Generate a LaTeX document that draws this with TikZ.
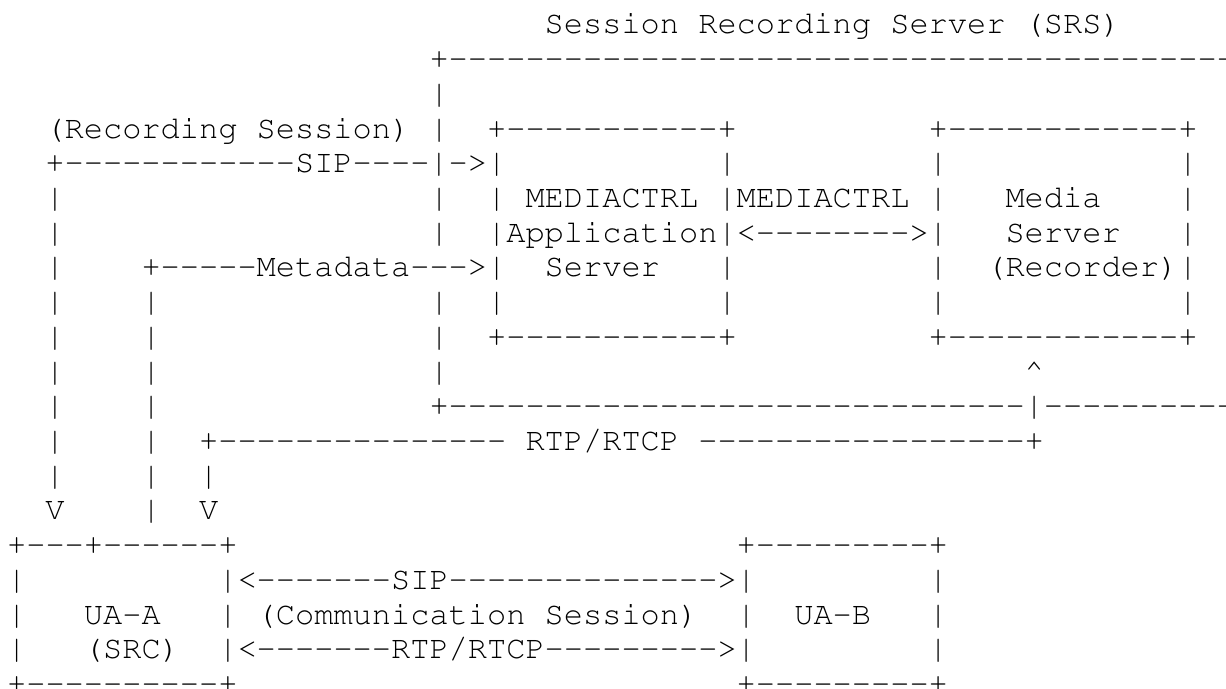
\documentclass[tikz,border=0pt]{standalone}
\usepackage[T1]{fontenc}
\usepackage{courier}
\ExplSyntaxOn
\cs_new:Npn \rdash #1 { \prg_replicate:nn {#1} {-{}} }
\ExplSyntaxOff
\newcommand\gx[1]{7.1+19.2*#1}
\newcommand\gy[1]{34.72*#1-0.84}
\begin{document}
\begin{tikzpicture}[x=0.5pt,y=-0.5pt,
  t/.style={anchor=base west, inner sep=0pt, outer sep=0pt, text=black,
            font=\ttfamily\fontsize{16}{17}\selectfont}]
\useasboundingbox[fill=white] (0,0) rectangle (1226,689);
% line 1
\node[t] (l1) at ({\gx{28}},{\gy{1}}) {Session Recording Server (SRS)};
% line 2
\node[t] (l2) at ({\gx{22}},{\gy{2}}) {+\rdash{42}};
% line 3
\node[t] (l3) at ({\gx{22}},{\gy{3}}) {|};
% line 4
\node[t] (l4a) at ({\gx{2}},{\gy{4}}) {(Recording Session)};
\node[t] (l4b) at ({\gx{22}},{\gy{4}}) {|};
\node[t] (l4c) at ({\gx{25}},{\gy{4}}) {+\rdash{11}+};
\node[t] (l4d) at ({\gx{48}},{\gy{4}}) {+\rdash{12}+};
% line 5
\node[t] (l5a) at ({\gx{2}},{\gy{5}}) {+\rdash{12}SIP\rdash{4}|-{}>|};
\node[t] (l5b) at ({\gx{37}},{\gy{5}}) {|};
\node[t] (l5c) at ({\gx{48}},{\gy{5}}) {|};
\node[t] (l5d) at ({\gx{61}},{\gy{5}}) {|};
% line 6
\node[t] (l6a) at ({\gx{2}},{\gy{6}}) {|};
\node[t] (l6b) at ({\gx{22}},{\gy{6}}) {|};
\node[t] (l6c) at ({\gx{25}},{\gy{6}}) {|};
\node[t] (l6d) at ({\gx{27}},{\gy{6}}) {MEDIACTRL};
\node[t] (l6e) at ({\gx{37}},{\gy{6}}) {|MEDIACTRL};
\node[t] (l6f) at ({\gx{48}},{\gy{6}}) {|};
\node[t] (l6g) at ({\gx{52}},{\gy{6}}) {Media};
\node[t] (l6h) at ({\gx{61}},{\gy{6}}) {|};
% line 7
\node[t] (l7a) at ({\gx{2}},{\gy{7}}) {|};
\node[t] (l7b) at ({\gx{22}},{\gy{7}}) {|};
\node[t] (l7c) at ({\gx{25}},{\gy{7}}) {|Application|<\rdash{8}>|};
\node[t] (l7d) at ({\gx{52}},{\gy{7}}) {Server};
\node[t] (l7e) at ({\gx{61}},{\gy{7}}) {|};
% line 8
\node[t] (l8a) at ({\gx{2}},{\gy{8}}) {|};
\node[t] (l8b) at ({\gx{7}},{\gy{8}}) {+\rdash{5}Metadata\rdash{3}>|};
\node[t] (l8c) at ({\gx{28}},{\gy{8}}) {Server};
\node[t] (l8d) at ({\gx{37}},{\gy{8}}) {|};
\node[t] (l8e) at ({\gx{48}},{\gy{8}}) {|};
\node[t] (l8f) at ({\gx{51}},{\gy{8}}) {(Recorder)|};
% line 9
\node[t] (l9a) at ({\gx{2}},{\gy{9}}) {|};
\node[t] (l9b) at ({\gx{7}},{\gy{9}}) {|};
\node[t] (l9c) at ({\gx{22}},{\gy{9}}) {|};
\node[t] (l9d) at ({\gx{25}},{\gy{9}}) {|};
\node[t] (l9e) at ({\gx{37}},{\gy{9}}) {|};
\node[t] (l9f) at ({\gx{48}},{\gy{9}}) {|};
\node[t] (l9g) at ({\gx{61}},{\gy{9}}) {|};
% line 10
\node[t] (l10a) at ({\gx{2}},{\gy{10}}) {|};
\node[t] (l10b) at ({\gx{7}},{\gy{10}}) {|};
\node[t] (l10c) at ({\gx{22}},{\gy{10}}) {|};
\node[t] (l10d) at ({\gx{25}},{\gy{10}}) {+\rdash{11}+};
\node[t] (l10e) at ({\gx{48}},{\gy{10}}) {+\rdash{12}+};
% line 11
\node[t] (l11a) at ({\gx{2}},{\gy{11}}) {|};
\node[t] (l11b) at ({\gx{7}},{\gy{11}}) {|};
\node[t] (l11c) at ({\gx{22}},{\gy{11}}) {|};
\node[t] (l11d) at ({\gx{53}},{\gy{11}}) {\textasciicircum};
% line 12
\node[t] (l12a) at ({\gx{2}},{\gy{12}}) {|};
\node[t] (l12b) at ({\gx{7}},{\gy{12}}) {|};
\node[t] (l12c) at ({\gx{22}},{\gy{12}}) {+\rdash{30}|\rdash{12}};
% line 13
\node[t] (l13a) at ({\gx{2}},{\gy{13}}) {|};
\node[t] (l13b) at ({\gx{7}},{\gy{13}}) {|};
\node[t] (l13c) at ({\gx{10}},{\gy{13}}) {+\rdash{15} RTP/RTCP \rdash{17}+};
% line 14
\node[t] (l14a) at ({\gx{2}},{\gy{14}}) {|};
\node[t] (l14b) at ({\gx{7}},{\gy{14}}) {|};
\node[t] (l14c) at ({\gx{10}},{\gy{14}}) {|};
% line 15
\node[t] (l15a) at ({\gx{2}},{\gy{15}}) {V};
\node[t] (l15b) at ({\gx{7}},{\gy{15}}) {|};
\node[t] (l15c) at ({\gx{10}},{\gy{15}}) {V};
% line 16
\node[t] (l16a) at ({\gx{0}},{\gy{16}}) {+\rdash{3}+\rdash{6}+};
\node[t] (l16b) at ({\gx{38}},{\gy{16}}) {+\rdash{9}+};
% line 17
\node[t] (l17a) at ({\gx{0}},{\gy{17}}) {|};
\node[t] (l17b) at ({\gx{11}},{\gy{17}}) {|<\rdash{7}SIP\rdash{14}>|};
\node[t] (l17c) at ({\gx{48}},{\gy{17}}) {|};
% line 18
\node[t] (l18a) at ({\gx{0}},{\gy{18}}) {|};
\node[t] (l18b) at ({\gx{4}},{\gy{18}}) {UA-A};
\node[t] (l18c) at ({\gx{11}},{\gy{18}}) {|};
\node[t] (l18d) at ({\gx{13}},{\gy{18}}) {(Communication Session)};
\node[t] (l18e) at ({\gx{38}},{\gy{18}}) {|};
\node[t] (l18f) at ({\gx{41}},{\gy{18}}) {UA-B};
\node[t] (l18g) at ({\gx{48}},{\gy{18}}) {|};
% line 19
\node[t] (l19a) at ({\gx{0}},{\gy{19}}) {|};
\node[t] (l19b) at ({\gx{4}},{\gy{19}}) {(SRC)};
\node[t] (l19c) at ({\gx{11}},{\gy{19}}) {|<\rdash{7}RTP/RTCP\rdash{9}>|};
\node[t] (l19d) at ({\gx{48}},{\gy{19}}) {|};
% line 20
\node[t] (l20a) at ({\gx{0}},{\gy{20}}) {+\rdash{10}+};
\node[t] (l20b) at ({\gx{38}},{\gy{20}}) {+\rdash{9}+};
\end{tikzpicture}
\end{document}
